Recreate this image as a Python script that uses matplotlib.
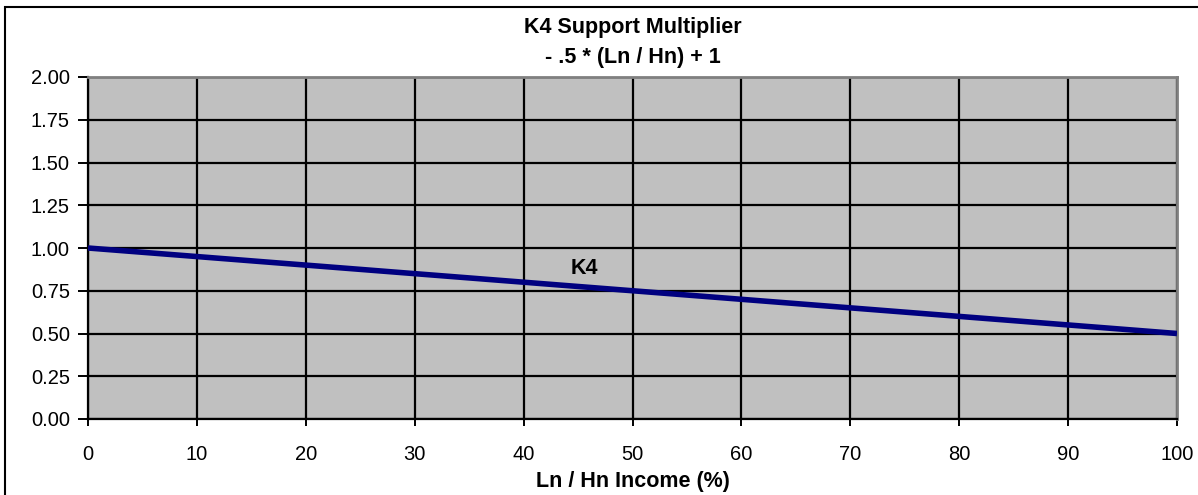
import matplotlib
matplotlib.use("Agg")
import matplotlib.pyplot as plt
from matplotlib.patches import Rectangle

plt.rcParams['font.family'] = ['Liberation Sans', 'DejaVu Sans']

# ratio of Ln / Hn income (%) and the K4 multiplier
income_pct = [0, 10, 20, 30, 40, 50, 60, 70, 80, 90, 100]
k4 = [1.00, 0.95, 0.90, 0.85, 0.80, 0.75, 0.70, 0.65, 0.60, 0.55, 0.50]
y_ticks = [0.00, 0.25, 0.50, 0.75, 1.00, 1.25, 1.50, 1.75, 2.00]
x_ticks = [0, 10, 20, 30, 40, 50, 60, 70, 80, 90, 100]

W, H = 1198, 495
fig = plt.figure(figsize=(W / 100, H / 100), dpi=100)
fig.patch.set_facecolor('white')

# outer chart frame
fig.add_artist(Rectangle((5 / W, -0.1), 1.2, 1 - 7 / H + 0.1, transform=fig.transFigure,
                         fill=False, edgecolor='black', linewidth=1.5))

left, right, top, bottom = 88 / W, 1177 / W, 1 - 77 / H, 1 - 419 / H
ax = fig.add_axes([left, bottom, right - left, top - bottom])
ax.set_facecolor('#C0C0C0')

ax.plot(income_pct, k4, color='#000080', linewidth=4.0, solid_capstyle='butt', zorder=3)
ax.text(45.6, 0.883, 'K4', fontsize=15.5, fontweight='bold', ha='center', va='center')

ax.set_xlim(0, 100)
ax.set_ylim(0, 2)
ax.set_xticks(x_ticks)
ax.set_yticks(y_ticks)
ax.set_yticklabels([f'{v:.2f}' for v in y_ticks])
ax.grid(True, color='black', linewidth=1.6)
ax.set_axisbelow(True)
ax.tick_params(axis='y', length=7, width=1.4, pad=6, labelsize=14.5)
ax.tick_params(axis='x', length=5, width=1.4, pad=14, labelsize=14.5)

for s in ['left', 'bottom']:
    ax.spines[s].set_color('black')
    ax.spines[s].set_linewidth(1.6)
for s in ['top', 'right']:
    ax.spines[s].set_color('#808080')
    ax.spines[s].set_linewidth(2)

fig.text((left + right) / 2, 1 - 28 / H, 'K4 Support Multiplier', ha='center', va='center',
         fontsize=15.5, fontweight='bold')
fig.text((left + right) / 2, 1 - 57 / H, '- .5 * (Ln / Hn) + 1', ha='center', va='center',
         fontsize=15.5, fontweight='bold')
fig.text((left + right) / 2, 1 - 482 / H, 'Ln / Hn Income (%)', ha='center', va='center',
         fontsize=15.5, fontweight='bold')

fig.savefig('out.png', dpi=100)
